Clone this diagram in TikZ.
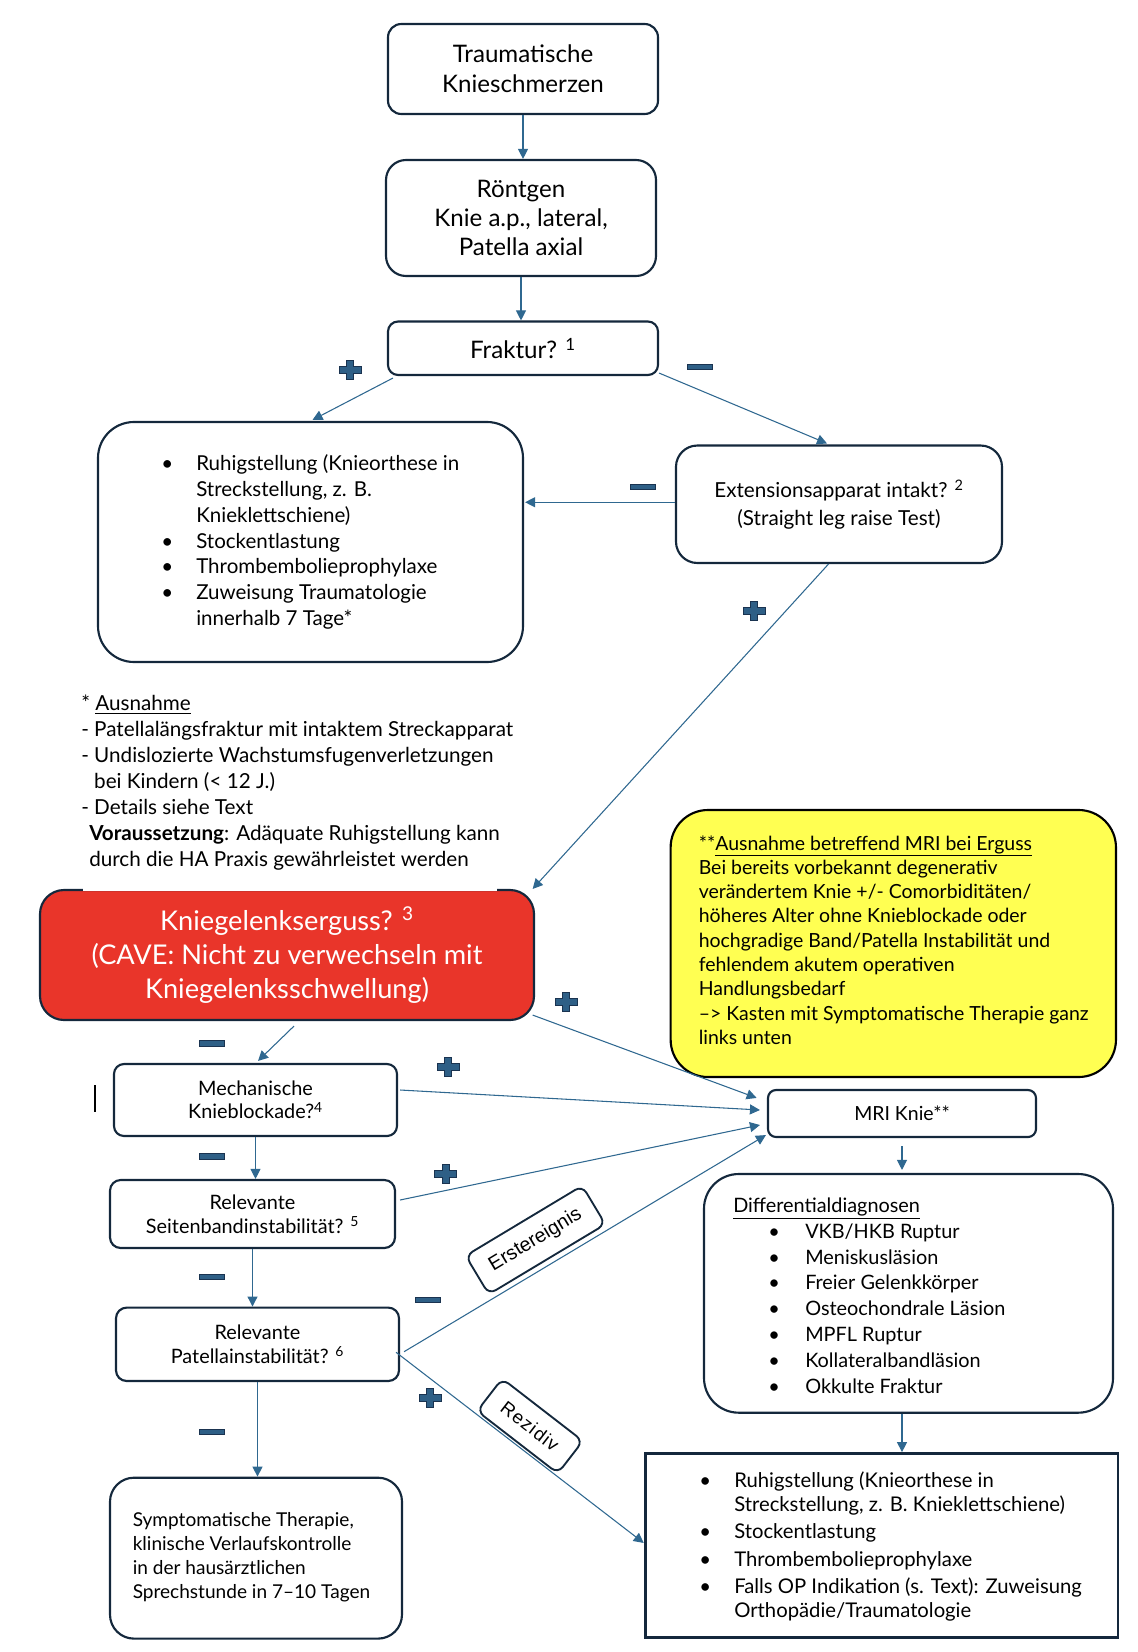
\documentclass[tikz,border=0pt]{standalone}
\usepackage{fontspec}
\setmainfont{Lato}
\newfontfamily\lblfont{Liberation Sans}
\usetikzlibrary{calc,arrows.meta}
\definecolor{navy}{HTML}{14283C}
\definecolor{conncol}{HTML}{2F6890}
\definecolor{pmfill}{HTML}{2E5F86}
\definecolor{pmline}{HTML}{1A3350}
\definecolor{redfill}{HTML}{E9352A}
\definecolor{yelfill}{HTML}{FFFF52}
\newcommand\bulitem[2]{\makebox[#1][l]{\textbullet}#2}
\newcommand\bulcont[2]{\hspace*{#1}#2}
\begin{document}
\begin{tikzpicture}[x=0.75pt,y=-0.75pt,
  box/.style={draw=navy, line width=1.6pt, inner sep=0pt, align=center, text=black},
  txt/.style={inner sep=0pt, anchor=west, align=left, text=black},
  conn/.style={draw=conncol, line width=0.8pt, -{Triangle[length=7.5pt,width=7.5pt]}},
  lbl/.style={draw=navy, line width=1.4pt, fill=white, rounded corners=6pt, inner sep=0pt, font={\lblfont\fontsize{14.8pt}{16pt}\selectfont}},
  pics/pmplus/.style={code={\filldraw[fill=pmfill, draw=pmline, line width=0.6pt] (-3.5,-9.5) -- (3.5,-9.5) -- (3.5,-3.3) -- (11,-3.3) -- (11,3.3) -- (3.5,3.3) -- (3.5,9.5) -- (-3.5,9.5) -- (-3.5,3.3) -- (-11,3.3) -- (-11,-3.3) -- (-3.5,-3.3) -- cycle;}},
  pics/pmminus/.style={code={\filldraw[fill=pmfill, draw=pmline, line width=0.6pt] (-12.5,-2.8) rectangle (12.5,2.8);}}]
\useasboundingbox (0,0) rectangle (1138,1652);

% boxes
\node[box, rounded corners=10pt, minimum width=202.5pt, minimum height=67.5pt, font={\fontsize{18.1pt}{22.5pt}\selectfont}] (box1) at (523,69) {Traumatische\\Knieschmerzen};
\node[box, rounded corners=15pt, minimum width=202.5pt, minimum height=87pt, font={\fontsize{18.1pt}{21.9pt}\selectfont}] (rtg) at (521,218) {Röntgen\\Knie a.p., lateral,\\Patella axial};
\node[box, rounded corners=7.5pt, minimum width=202.5pt, minimum height=40.1pt, font={\fontsize{18.1pt}{21.9pt}\selectfont}] (frak) at (523,348.25) {Fraktur? \textsuperscript{1}};
\node[box, rounded corners=27pt, minimum width=318.75pt, minimum height=180pt] (lbox) at (310.5,542) {};
\node[box, rounded corners=16pt, minimum width=244.5pt, minimum height=88.1pt, font={\fontsize{15.5pt}{21pt}\selectfont}] (ext) at (839,504.25) {Extensionsapparat intakt? \textsuperscript{2}\\(Straight leg raise Test)};
\node[box, rounded corners=18pt, fill=redfill, text=white, minimum width=370.5pt, minimum height=97.5pt, font={\fontsize{20.4pt}{25.5pt}\selectfont}] (red) at (287,955) {Kniegelenkserguss? \textsuperscript{3}\\(CAVE: Nicht zu verwechseln mit\\Kniegelenksschwellung)};
\fill[white] (83,878) rectangle (497,891.2);
\node[box, draw=black, rounded corners=28pt, fill=yelfill, minimum width=334pt, minimum height=200.25pt] (yel) at (893.3,943.5) {};
\node[box, rounded corners=7.5pt, minimum width=212.25pt, minimum height=54pt, font={\fontsize{14.9pt}{17.6pt}\selectfont}] (mech) at (255.5,1100) {Mechanische\\Knieblockade?\textsuperscript{4}};
\node[box, rounded corners=8pt, minimum width=213.75pt, minimum height=51pt, font={\fontsize{14.9pt}{17.9pt}\selectfont}] (seit) at (252.5,1214) {Relevante\\Seitenbandinstabilität? \textsuperscript{5}};
\node[box, rounded corners=8pt, minimum width=212.25pt, minimum height=55.05pt, font={\fontsize{14.9pt}{17.6pt}\selectfont}] (pat) at (257.5,1344.3) {Relevante\\Patellainstabilität? \textsuperscript{6}};
\node[box, rounded corners=18pt, minimum width=219pt, minimum height=120.7pt] (sym) at (256,1558.15) {};
\node[box, rounded corners=6pt, minimum width=201pt, minimum height=35.25pt, font={\fontsize{14.6pt}{17pt}\selectfont}] (mri) at (902,1113.5) {MRI Knie**};
\node[box, rounded corners=26pt, minimum width=306.75pt, minimum height=179pt] (dd) at (908.5,1293.35) {};
\node[box, line width=1.9pt, minimum width=354.3pt, minimum height=138.1pt] (bbox) at (881.8,1545.45) {};

% texts in boxes
\node[txt, font={\fontsize{15.4pt}{19.35pt}\selectfont}] (lboxtxt) at (161,542) {%
\bulitem{26.25pt}{Ruhigstellung (Knieorthese in}\\
\bulcont{26.25pt}{Streckstellung, z. B.}\\
\bulcont{26.25pt}{Knieklettschiene)}\\
\bulitem{26.25pt}{Stockentlastung}\\
\bulitem{26.25pt}{Thrombembolieprophylaxe}\\
\bulitem{26.25pt}{Zuweisung Traumatologie}\\
\bulcont{26.25pt}{innerhalb 7 Tage*}};
\node[txt, font={\fontsize{15.5pt}{19.5pt}\selectfont}] (ausn) at (81,783) {%
* \underline{Ausnahme}\\
- Patellalängsfraktur mit intaktem Streckapparat\\
- Undislozierte Wachstumsfugenverletzungen\\
\hphantom{- }bei Kindern (< 12 J.)\\
- Details siehe Text\\
\hspace*{6pt}\textbf{Voraussetzung}: Adäquate Ruhigstellung kann\\
\hspace*{6pt}durch die HA Praxis gewährleistet werden};
\node[txt, font={\fontsize{14.6pt}{18.2pt}\selectfont}] (yeltxt) at (698.5,940) {%
**\underline{Ausnahme betreffend MRI bei Erguss}\\
Bei bereits vorbekannt degenerativ\\
verändertem Knie +/- Comorbiditäten/\\
höheres Alter ohne Knieblockade oder\\
hochgradige Band/Patella Instabilität und\\
fehlendem akutem operativen\\
Handlungsbedarf\\
–> Kasten mit Symptomatische Therapie ganz\\
links unten};
\node[txt, font={\fontsize{14.9pt}{19.35pt}\selectfont}] (ddtxt) at (733,1295.6) {%
\underline{Differentialdiagnosen}\\
\hspace*{26.25pt}\bulitem{27.75pt}{VKB/HKB Ruptur}\\
\hspace*{26.25pt}\bulitem{27.75pt}{Meniskusläsion}\\
\hspace*{26.25pt}\bulitem{27.75pt}{Freier Gelenkkörper}\\
\hspace*{26.25pt}\bulitem{27.75pt}{Osteochondrale Läsion}\\
\hspace*{26.25pt}\bulitem{27.75pt}{MPFL Ruptur}\\
\hspace*{26.25pt}\bulitem{27.75pt}{Kollateralbandläsion}\\
\hspace*{26.25pt}\bulitem{27.75pt}{Okkulte Fraktur}};
\node[txt, font={\fontsize{15.2pt}{18pt}\selectfont}] (bboxtxt) at (699,1546.5) {%
\bulitem{26.25pt}{Ruhigstellung (Knieorthese in}\\
\bulcont{26.25pt}{Streckstellung, z. B. Knieklettschiene)}\\[2.4pt]
\bulitem{26.25pt}{Stockentlastung}\\[2.4pt]
\bulitem{26.25pt}{Thrombembolieprophylaxe}\\[2.4pt]
\bulitem{26.25pt}{Falls OP Indikation (s. Text): Zuweisung}\\
\bulcont{26.25pt}{Orthopädie/Traumatologie}};
\node[txt, font={\fontsize{14.3pt}{18pt}\selectfont}] (symtxt) at (132.5,1557.6) {%
Symptomatische Therapie,\\klinische Verlaufskontrolle\\in der hausärztlichen\\Sprechstunde in 7–10 Tagen};

% connectors
\draw[conn] (box1.south) -- (box1.south |- rtg.north);
\draw[conn] (rtg.south) -- (rtg.south |- frak.north);
\draw[conn] ($(frak.south west)+(6,2)$) -- ($(lbox.north)+(2,-1)$);
\draw[conn] ($(frak.south east)+(0,-3)$) -- ($(ext.north)+(-12,-1)$);
\draw[conn] ($(ext.west)+(0,-2)$) -- ($(lbox.east|-ext.west)+(1,-2)$);
\draw[conn] ($(ext.south)+(-10.5,0)$) -- ($(red.north east)+(-2.4,0)$);
\draw[conn] ($(red.south)+(7,5)$) -- ($(mech.north)+(2.5,-2)$);
\draw[conn] ($(red.south east)+(-2.4,-6)$) -- ($(mri.north west)+(-10.3,9)$);
\draw[conn] ($(mech.east)+(2,-10)$) -- ($(mri.west)+(-7,-3.5)$);
\draw[conn] ($(seit.east)+(4,-14)$) -- ($(mri.west)+(-7,11.5)$);
\draw[conn] ($(pat.east)+(4,7.4)$) -- ($(mri.south west)+(-1,-3)$);
\draw[conn] ($(pat.east)+(-4,8)$) -- ($(bbox.west)+(-0.6,-2.5)$);
\draw[conn] (mech.south) -- (mech.south |- seit.north);
\draw[conn] (seit.south) -- (seit.south |- pat.north);
\draw[conn] (pat.south) -- (pat.south |- sym.north);
\draw[conn] ($(mri.south)+(0,8)$) -- ($(mri.south |- dd.north)+(0,-3)$);
\draw[conn] ($(dd.south)+(-6.5,0)$) -- ($(dd.south |- bbox.north)+(-6.5,0)$);

% branch labels
\node[lbl, rotate=31, minimum width=102pt, minimum height=33.75pt] (erst) at (535.5,1240) {Erstereignis};
\node[lbl, rotate=-37.7, minimum width=76.5pt, minimum height=30.75pt, font={\lblfont\fontsize{14pt}{16pt}\selectfont\addfontfeatures{LetterSpace=6}}] (rez) at (530,1426) {Rezidiv};

% plus / minus marks
\pic at (350,370) {pmplus};
\pic at (754,611) {pmplus};
\pic at (566,1002) {pmplus};
\pic at (448,1067) {pmplus};
\pic at (445.6,1174) {pmplus};
\pic at (430,1398) {pmplus};
\pic at (700,367) {pmminus};
\pic at (643,487) {pmminus};
\pic at (212,1043.6) {pmminus};
\pic at (211.5,1156.5) {pmminus};
\pic at (211.5,1276.7) {pmminus};
\pic at (428,1300) {pmminus};
\pic at (211.5,1432) {pmminus};

% stray mark
\draw[black, line width=1.3pt] (95,1085) -- (95,1112);
\end{tikzpicture}
\end{document}
